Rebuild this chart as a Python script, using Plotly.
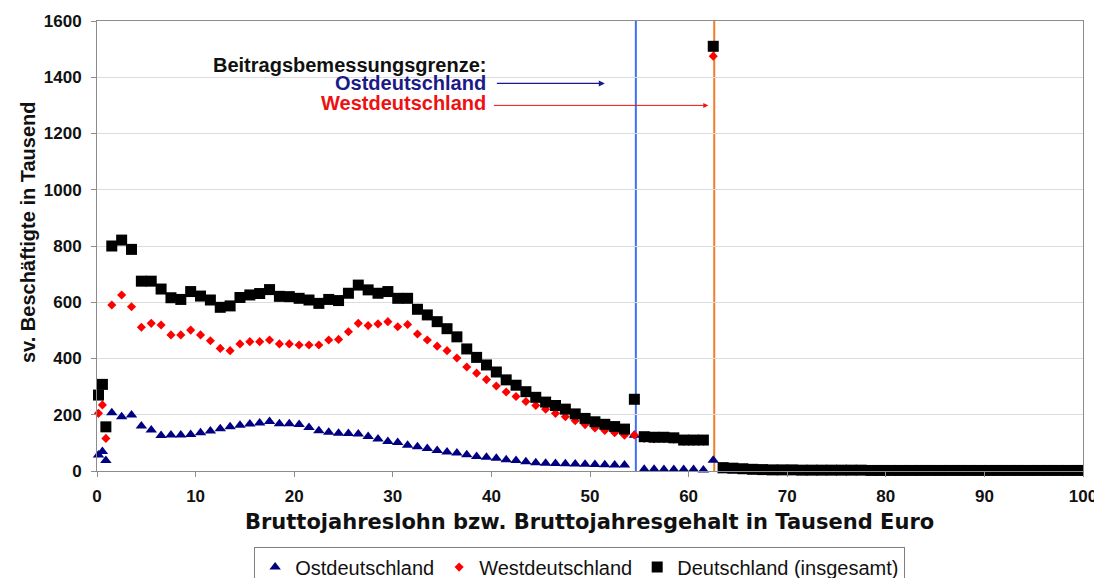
import plotly.graph_objects as go

# Bin midpoints (Tausend Euro)
X_KEUR = [0.15, 0.55, 0.9,
          1.5, 2.5, 3.5, 4.5, 5.5, 6.5, 7.5, 8.5, 9.5, 10.5,
          11.5, 12.5, 13.5, 14.5, 15.5, 16.5, 17.5, 18.5, 19.5, 20.5,
          21.5, 22.5, 23.5, 24.5, 25.5, 26.5, 27.5, 28.5, 29.5, 30.5,
          31.5, 32.5, 33.5, 34.5, 35.5, 36.5, 37.5, 38.5, 39.5, 40.5,
          41.5, 42.5, 43.5, 44.5, 45.5, 46.5, 47.5, 48.5, 49.5, 50.5,
          51.5, 52.5, 53.5, 54.5, 55.5, 56.5, 57.5, 58.5, 59.5, 60.5,
          61.5, 62.5, 63.5, 64.5, 65.5, 66.5, 67.5, 68.5, 69.5, 70.5,
          71.5, 72.5, 73.5, 74.5, 75.5, 76.5, 77.5, 78.5, 79.5, 80.5,
          81.5, 82.5, 83.5, 84.5, 85.5, 86.5, 87.5, 88.5, 89.5, 90.5,
          91.5, 92.5, 93.5, 94.5, 95.5, 96.5, 97.5, 98.5, 99.5]

OST = [57, 69, 37,
       207, 193, 199, 160, 146, 126, 128, 128, 130, 136,
       142, 150, 157, 163, 167, 171, 176, 168, 168, 165,
       155, 143, 138, 134, 133, 132, 123, 114, 105, 101,
       92, 86, 80, 73, 68, 64, 58, 52, 49, 45,
       40, 37, 33, 29, 28, 27, 26, 25, 24, 23,
       22, 21, 21, 127, 6, 6, 5, 5, 5, 5,
       4, 38, 1, 1, 1, 1, 0, 0, 0, 0,
       0, 0, 0, 0, 0, 0, 0, 0, 0, 0,
       0, 0, 0, 0, 0, 0, 0, 0, 0, 0,
       0, 0, 0, 0, 0, 0, 0, 0, 0]

WEST = [205, 235, 116,
        590, 626, 584, 511, 525, 519, 484, 484, 501, 484,
        463, 436, 428, 452, 460, 460, 466, 452, 452, 448,
        448, 448, 466, 468, 495, 525, 517, 523, 531, 513,
        521, 487, 466, 444, 428, 402, 370, 348, 325, 302,
        281, 265, 247, 233, 220, 205, 193, 179, 165, 153,
        144, 136, 127, 128, 116, 114, 115, 113, 105, 105,
        106, 1475, 11, 9, 7, 5, 4, 3, 3, 3, 2,
        2, 2, 2, 2, 2, 2, 2, 2, 2, 2,
        2, 2, 2, 2, 2, 2, 2, 2, 2, 2,
        2, 2, 2, 2, 2, 2, 2, 2]

DEUTSCHLAND = [270, 308, 157,
               800, 821, 788, 675, 675, 647, 616, 610, 638, 622,
               608, 582, 587, 617, 626, 631, 645, 621, 620, 614,
               608, 596, 610, 606, 632, 661, 644, 632, 638, 614,
               614, 575, 555, 531, 506, 477, 434, 404, 377, 352,
               324, 305, 282, 262, 245, 233, 220, 203, 187, 175,
               166, 158, 149, 255, 122, 120, 120, 118, 110, 110,
               110, 1510, 12, 10, 8, 6, 5, 4, 4, 4, 3,
               3, 3, 3, 3, 3, 3, 2, 2, 2, 2,
               2, 2, 2, 2, 2, 2, 2, 2, 2, 2,
               2, 2, 2, 2, 2, 2, 2, 2]

BBG_OST = 54.65
BBG_WEST = 62.6

FONT = "Liberation Sans, Arial, sans-serif"
WIDE_FONT = "DejaVu Sans, Verdana, sans-serif"

fig = go.Figure()
fig.add_trace(go.Scatter(x=X_KEUR, y=OST, mode="markers", name="Ostdeutschland",
                         marker=dict(symbol="triangle-up", size=10, color="#000080"),
                         cliponaxis=False))
fig.add_trace(go.Scatter(x=X_KEUR, y=WEST, mode="markers", name="Westdeutschland",
                         marker=dict(symbol="diamond", size=7, color="#ff0000"),
                         cliponaxis=False))
fig.add_trace(go.Scatter(x=X_KEUR, y=DEUTSCHLAND, mode="markers", name="Deutschland (insgesamt)",
                         marker=dict(symbol="square", size=11, color="#000000"),
                         cliponaxis=False))

fig.add_shape(type="line", x0=BBG_OST, x1=BBG_OST, y0=0, y1=1, xref="x", yref="paper",
              line=dict(color="#3f6ff2", width=2), layer="below")
fig.add_shape(type="line", x0=BBG_WEST, x1=BBG_WEST, y0=0, y1=1, xref="x", yref="paper",
              line=dict(color="#f07c2c", width=2), layer="below")

fig.add_annotation(x=39.7, y=1445, xref="x", yref="y", xanchor="right", yanchor="middle",
                   text="<b>Beitragsbemessungsgrenze:</b>", showarrow=False,
                   font=dict(family=FONT, size=20, color="#111111"))
fig.add_annotation(x=39.7, y=1380, xref="x", yref="y", xanchor="right", yanchor="middle",
                   text="<b>Ostdeutschland</b>", showarrow=False,
                   font=dict(family=FONT, size=20, color="#1a1a88"))
fig.add_annotation(x=39.7, y=1308, xref="x", yref="y", xanchor="right", yanchor="middle",
                   text="<b>Westdeutschland</b>", showarrow=False,
                   font=dict(family=FONT, size=20, color="#ee1111"))
fig.add_annotation(x=51.5, y=1378, ax=40.4, ay=1378, xref="x", yref="y", axref="x", ayref="y",
                   text="", showarrow=True, arrowhead=2, arrowsize=1, arrowwidth=1.2,
                   arrowcolor="#1a1a88")
fig.add_annotation(x=62.0, y=1300, ax=40.1, ay=1300, xref="x", yref="y", axref="x", ayref="y",
                   text="", showarrow=True, arrowhead=2, arrowsize=1, arrowwidth=1,
                   arrowcolor="#ee1111")

# axis titles
fig.add_annotation(x=-0.070, y=0.531, xref="paper", yref="paper", textangle=-90,
                   xanchor="center", yanchor="middle",
                   text="<b>sv. Beschäftigte in Tausend</b>", showarrow=False,
                   font=dict(family=FONT, size=20, color="#111111"))
fig.add_annotation(x=0.499, y=-0.113, xref="paper", yref="paper",
                   xanchor="center", yanchor="middle",
                   text="<b>Bruttojahreslohn bzw. Bruttojahresgehalt in Tausend Euro</b>",
                   showarrow=False, font=dict(family=WIDE_FONT, size=21, color="#111111"))

# the page body adds an 8 px offset; margins compensate for it
fig.update_layout(
    width=1094, height=570,
    margin=dict(l=89, r=19, t=13, b=107, autoexpand=False),
    paper_bgcolor="white", plot_bgcolor="white",
    font=dict(family=FONT, color="#111111"),
    showlegend=True,
    legend=dict(orientation="h", x=0.4895, xanchor="center", y=-0.168, yanchor="top",
                bordercolor="#808080", borderwidth=1, bgcolor="white",
                font=dict(family=FONT, size=20, color="#111111"),
                itemwidth=30, tracegroupgap=0),
)
fig.update_xaxes(range=[0, 100], dtick=10, tick0=0, showgrid=False, zeroline=False,
                 showline=True, linecolor="#8c8c8c", linewidth=1, mirror=True,
                 ticks="outside", ticklen=5, tickcolor="#8c8c8c", ticklabelstandoff=5,
                 tickfont=dict(family=FONT, size=17, color="#111111"),
                 tickprefix="<b>", ticksuffix="</b>")
fig.update_yaxes(range=[0, 1600], dtick=200, tick0=0, showgrid=True, gridcolor="#dcdcdc",
                 zeroline=False, showline=True, linecolor="#8c8c8c", linewidth=1, mirror=True,
                 ticks="outside", ticklen=5, tickcolor="#8c8c8c", ticklabelstandoff=6,
                 tickfont=dict(family=FONT, size=17, color="#111111"),
                 tickprefix="<b>", ticksuffix="</b>")

fig.write_html("out.html")
